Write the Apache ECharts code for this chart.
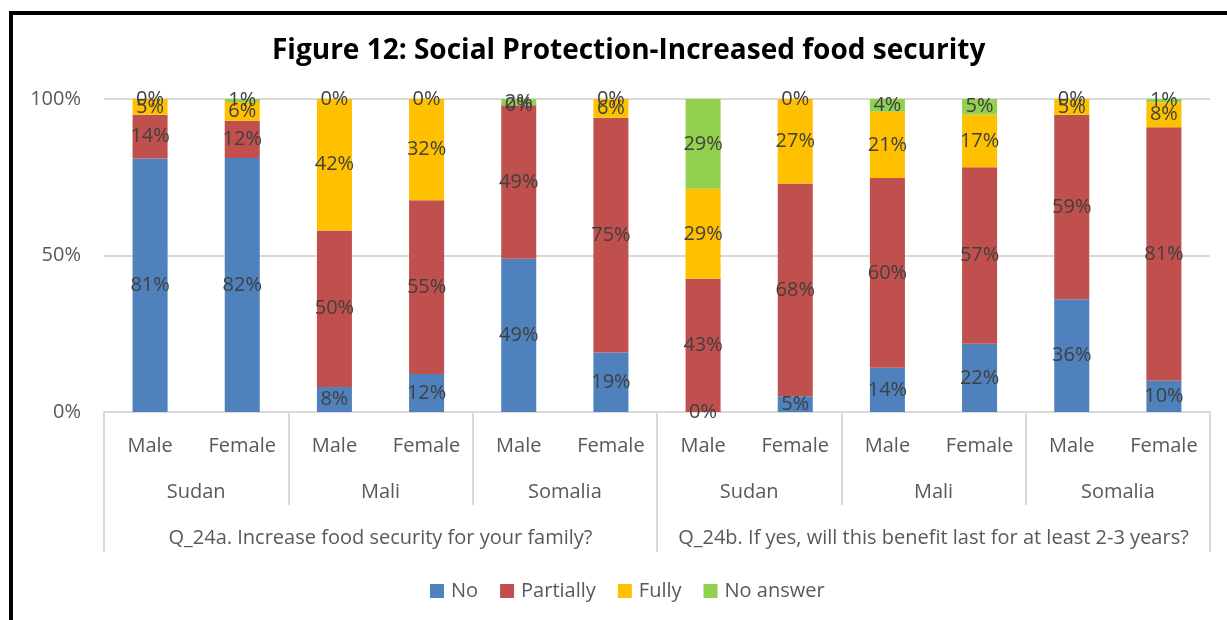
<!DOCTYPE html>
<html>
<head>
<meta charset="utf-8">
<script src="https://cdn.jsdelivr.net/npm/echarts@6/dist/echarts.min.js"></script>
<style>
html,body{margin:0;padding:0;background:#fff;}
#chart{width:1227px;height:620px;}
</style>
</head>
<body>
<div id="chart"></div>
<script>
const title = 'Figure 12: Social Protection-Increased food security';
const genders = ['Male','Female','Male','Female','Male','Female','Male','Female','Male','Female','Male','Female'];
const countries = ['Sudan','Mali','Somalia','Sudan','Mali','Somalia'];
const questions = ['Q_24a. Increase food security for your family?','Q_24b. If yes, will this benefit last for at least 2-3 years?'];
const seriesNames = ['No','Partially','Fully','No answer'];
const noVals        = [81, 82,  8, 12, 49, 19,  0,  5, 14, 22, 36, 10];
const partiallyVals = [14, 12, 50, 55, 49, 75, 43, 68, 60, 57, 59, 81];
const fullyVals     = [ 5,  6, 42, 32,  0,  6, 29, 27, 21, 17,  5,  8];
const noAnswerVals  = [ 0,  1,  0,  0,  2,  0, 29,  0,  4,  5,  0,  1];
const yTicks = [0, 50, 100];

const colors = ['#4F81BD','#C0504D','#FFC000','#92D050'];
const raw = [noVals, partiallyVals, fullyVals, noAnswerVals];
const totals = genders.map((_, i) => raw.reduce((s, a) => s + a[i], 0));

const FONT = 'Open Sans';
const chart = echarts.init(document.getElementById('chart'), null, {renderer:'canvas'});
const series = raw.map((arr, si) => ({
  name: seriesNames[si],
  type: 'bar',
  stack: 'total',
  barWidth: '38%',
  xAxisIndex: 0,
  itemStyle: {color: colors[si]},
  label: {
    show: true,
    position: 'inside',
    color: '#404040',
    fontFamily: FONT,
    fontSize: 20,
    formatter: p => arr[p.dataIndex] + '%'
  },
  data: arr.map((v, i) => v / totals[i] * 100)
}));

chart.setOption({
  animation: false,
  backgroundColor: '#fff',
  title: {
    text: title,
    left: 267,
    top: 32,
    textStyle: {fontFamily: FONT, fontWeight: 'bold', fontSize: 28, color: '#000'}
  },
  legend: {
    data: seriesNames,
    bottom: 14,
    left: 425,
    itemWidth: 14,
    itemHeight: 14,
    itemGap: 22,
    icon: 'rect',
    textStyle: {fontFamily: FONT, fontSize: 20, color: '#595959', padding: [0, 0, 0, 2]}
  },
  grid: {left: 104, right: 17, top: 99, bottom: 208},
  yAxis: {
    type: 'value',
    min: 0, max: 100, interval: 50,
    axisLabel: {formatter: v => yTicks.includes(v) ? v + '%' : '', fontFamily: FONT, fontSize: 20, color: '#595959', margin: 23},
    splitLine: {lineStyle: {color: '#D9D9D9', width: 2}},
    axisLine: {show: false},
    axisTick: {show: false}
  },
  xAxis: [
    {
      type: 'category', data: genders, position: 'bottom',
      axisLine: {lineStyle: {color: '#D9D9D9', width: 2}},
      axisTick: {show: false},
      axisLabel: {fontFamily: FONT, fontSize: 20, color: '#595959', margin: 24, interval: 0}
    },
    {
      type: 'category', data: countries, position: 'bottom', gridIndex: 0,
      axisLine: {show: false},
      axisTick: {show: true, length: 93, lineStyle: {color: '#D9D9D9', width: 2}, interval: 0},
      axisLabel: {fontFamily: FONT, fontSize: 20, color: '#595959', margin: 70, interval: 0}
    },
    {
      type: 'category', data: questions, position: 'bottom', gridIndex: 0,
      axisLine: {show: false},
      axisTick: {show: true, length: 140, lineStyle: {color: '#D9D9D9', width: 2}, interval: 0},
      axisLabel: {fontFamily: FONT, fontSize: 20, color: '#595959', margin: 116, interval: 0}
    }
  ],
  series: series,
  graphic: [
    {type: 'line', shape: {x1: 11, y1: 11, x2: 11, y2: 620}, style: {stroke: '#000', lineWidth: 4}},
    {type: 'line', shape: {x1: 9, y1: 13, x2: 1227, y2: 13}, style: {stroke: '#000', lineWidth: 4}}
  ]
});
</script>
</body>
</html>
